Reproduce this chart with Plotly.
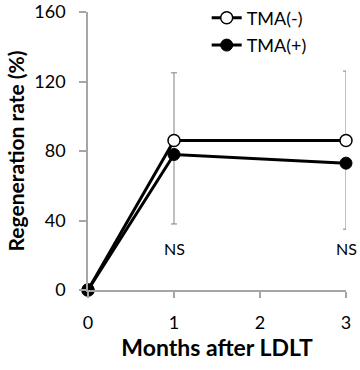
import plotly.graph_objects as go

months = [0, 1, 3]
tma_neg = [0, 86, 86]
tma_pos = [0, 78, 73]
tma_neg_err_up = [0, 39, 40]
tma_pos_err_down = [0, 40, 38]
ns_x = [1, 3]
ns_y = [24, 24]
ns_text = ["NS", "NS"]
y_ticks = [0, 40, 80, 120, 160]
x_ticks = [0, 1, 2, 3]

font_family = "Lato, Open Sans, sans-serif"
grey = "#a6a6a6"

fig = go.Figure()
fig.add_trace(go.Scatter(
    x=months, y=tma_neg, name="TMA(-)", mode="lines+markers", legendgroup="a",
    line=dict(color="black", width=3),
    marker=dict(symbol="circle", size=12, color="white", line=dict(color="black", width=1.5)),
    error_y=dict(type="data", symmetric=False, array=tma_neg_err_up,
                 arrayminus=[0, 0, 0], color="#808080", thickness=1, width=3),
    cliponaxis=False,
))
fig.add_trace(go.Scatter(
    x=months, y=tma_pos, name="TMA(+)", mode="lines+markers", legendgroup="b",
    line=dict(color="black", width=3),
    marker=dict(symbol="circle", size=12, color="black", line=dict(color="black", width=1)),
    error_y=dict(type="data", symmetric=False, array=[0, 0, 0],
                 arrayminus=tma_pos_err_down, color="#808080", thickness=1, width=3),
    cliponaxis=False,
))
for xx, yy, tt in zip(ns_x, ns_y, ns_text):
    fig.add_annotation(x=xx, y=yy, text=tt, showarrow=False,
                       font=dict(family=font_family, size=16, color="black"))

fig.update_layout(
    width=360, height=370,
    margin=dict(l=88, r=14, t=12, b=80, autoexpand=False),
    plot_bgcolor="white", paper_bgcolor="white",
    font=dict(family=font_family, size=18, color="black"),
    showlegend=True,
    legend=dict(x=0.46, y=1.045, xanchor="left", yanchor="top",
                bgcolor="rgba(0,0,0,0)", font=dict(size=18),
                itemwidth=30, tracegroupgap=1),
    xaxis=dict(range=[0, 3], tickvals=x_ticks, showgrid=False, zeroline=False,
               showline=True, linecolor=grey, linewidth=1.5, automargin=False,
               ticks="outside", ticklen=6, tickcolor=grey, tickwidth=1.5,
               ticklabelstandoff=10, ticklabeloverflow="allow",
               title=dict(text="<b>Months after LDLT</b>", font=dict(size=23), standoff=4)),
    yaxis=dict(range=[0, 160], tickvals=y_ticks, showgrid=False, zeroline=False,
               showline=True, linecolor=grey, linewidth=1.5, automargin=False,
               ticks="outside", ticklen=7, tickcolor=grey, tickwidth=1.5,
               ticklabelstandoff=10, ticklabeloverflow="allow",
               title=dict(text="<b>Regeneration rate (%)</b>", font=dict(size=21), standoff=4)),
)
fig.write_html("out.html", config={"displayModeBar": False},
               post_script="document.body.style.margin='0';")
